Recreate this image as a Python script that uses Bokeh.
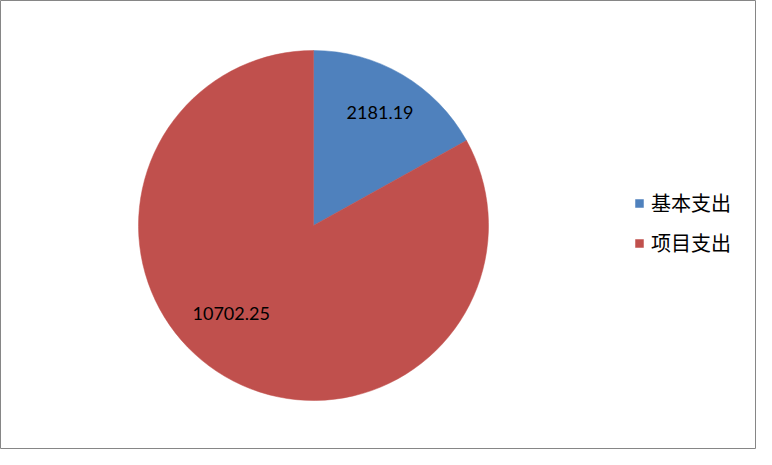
import math
from bokeh.plotting import figure
from bokeh.models import ColumnDataSource, Range1d, Legend, LegendItem
from bokeh.core.properties import value
from bokeh.embed import file_html
from bokeh.resources import INLINE

# ---- data ----
categories = ["基本支出", "项目支出"]
amounts = [2181.19, 10702.25]
labels = ["2181.19", "10702.25"]
colors = ["#4F81BD", "#C0504D"]

W, H = 756, 449
cx, cy, R = 313, 224, 175

total = sum(amounts)
starts, ends, mids = [], [], []
acc = 0.0
for a in amounts:
    s = math.pi / 2 - acc / total * 2 * math.pi
    acc += a
    e = math.pi / 2 - acc / total * 2 * math.pi
    starts.append(s)
    ends.append(e)
    mids.append((s + e) / 2)

# label placement (layout tweaks, Excel-like best fit)
label_rfrac = [0.75, 0.69]
label_dang = [0.0, -math.radians(12.5)]
lx = [cx + R * f * math.cos(m + d) for m, f, d in zip(mids, label_rfrac, label_dang)]
ly = [cy + R * f * math.sin(m + d) for m, f, d in zip(mids, label_rfrac, label_dang)]

src = ColumnDataSource(dict(cat=categories, amt=amounts, start=starts, end=ends,
                            color=colors, x=[cx] * len(amounts), y=[cy] * len(amounts)))
lsrc = ColumnDataSource(dict(x=lx, y=ly, text=labels))

p = figure(width=W, height=H, output_backend="svg", toolbar_location=None,
           x_range=Range1d(0, W), y_range=Range1d(0, H), min_border=0)
p.axis.visible = False
p.grid.visible = False
p.outline_line_color = "#868686"
p.outline_line_width = 1
p.background_fill_color = "white"
p.border_fill_color = "white"

w = p.wedge(x="x", y="y", radius=R, start_angle="start", end_angle="end",
            direction="clock", fill_color="color", line_color="color", line_width=0.5,
            source=src)

p.text(x="x", y="y", text="text", source=lsrc, text_align="center",
       text_baseline="middle", text_font=value("Lato"), text_font_size="18px",
       text_color="#000000")

items = [LegendItem(label=c, renderers=[w], index=i) for i, c in enumerate(categories)]
legend = Legend(items=items, location=(634, 192), orientation="vertical",
                glyph_width=10, glyph_height=10, label_standoff=7,
                label_height=20, spacing=11, padding=0, margin=0,
                border_line_color=None, background_fill_alpha=0,
                label_text_font="Noto Sans CJK SC", label_text_font_size="20px",
                label_text_color="#000000")
p.add_layout(legend, "center")

open("out.html", "w").write(file_html(p, INLINE))
